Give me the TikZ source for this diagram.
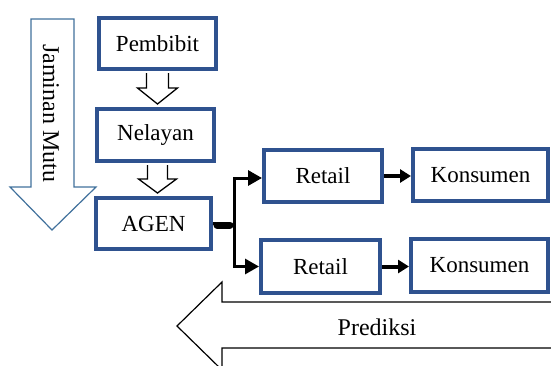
\documentclass[tikz,border=0pt]{standalone}
\usepackage{fontspec}
\setmainfont{Liberation Serif}
\usetikzlibrary{arrows.meta,calc}
\definecolor{boxblue}{RGB}{47,82,143}
\definecolor{arrblue}{RGB}{65,113,156}
\begin{document}
\begin{tikzpicture}[x=1pt,y=-1pt,
  box/.style={draw=boxblue,line width=4pt,fill=white,inner sep=0pt,
    font=\fontsize{23}{26}\selectfont},
  hollow/.style={draw=black,line width=1.3pt,fill=white,line join=miter},
  conn/.style={draw=black,line width=3pt},
  bigtip/.style={-{Triangle[length=14pt,width=15pt]}},
  smalltip/.style={-{Triangle[length=11pt,width=13pt]}},
  lbl/.style={font=\fontsize{24}{26}\selectfont,inner sep=0pt}]
\useasboundingbox (0,0) rectangle (551,365);
\clip (0,0) rectangle (551,365);
% boxes
\node[box,minimum width=117pt,minimum height=51pt] (pem) at (157.5,43.5) {Pembibit};
\node[box,minimum width=117pt,minimum height=52pt] (nel) at (155.5,135) {Nelayan};
\node[box,minimum width=115pt,minimum height=51pt] (agen) at (153.5,223.5) {AGEN};
\node[box,minimum width=118pt,minimum height=52pt] (ret1) at (323,176) {Retail};
\node[box,minimum width=135pt,minimum height=52pt] (kon1) at (480.5,175) {Konsumen};
\node[box,minimum width=119pt,minimum height=53pt] (ret2) at (320.5,266.5) {Retail};
\node[box,minimum width=137pt,minimum height=53pt] (kon2) at (479.5,265.5) {Konsumen};
% hollow down arrows between boxes
\coordinate (a1) at ($(pem.south)+(0,2)$);
\coordinate (t1) at ($(a1 |- nel.north)+(0,-3)$);
\path[hollow] ($(a1)+(-11,0)$) -- ($(a1)+(-11,15)$) -- ($(a1)+(-20,15)$) -- (t1)
  -- ($(a1)+(20,15)$) -- ($(a1)+(11,15)$) -- ($(a1)+(11,0)$);
\coordinate (a2) at ($(nel.south)+(2,2)$);
\coordinate (t2) at ($(a2 |- agen.north)+(0,-3)$);
\path[hollow] ($(a2)+(-10,0)$) -- ($(a2)+(-10,14)$) -- ($(a2)+(-19,14)$) -- (t2)
  -- ($(a2)+(19,14)$) -- ($(a2)+(10,14)$) -- ($(a2)+(10,0)$);
% Jaminan Mutu arrow
\draw[draw=arrblue,line width=1.2pt,fill=white,line join=miter]
  (31,19) -- (74,19) -- (74,187) -- (96,187) -- (52,230) -- (10,187) -- (31,187) -- cycle;
\node[lbl,rotate=-90] (jm) at (51,113) {Jaminan Mutu};
% Prediksi arrow
\draw[draw=black,line width=1.2pt,fill=white,line join=miter]
  (560,302) -- (222,302) -- (222,282) -- (177,326) -- (222,370) -- (222,348) -- (560,348);
\node[lbl] (pred) at (377,327) {Prediksi};
% connectors
\coordinate (j) at (234,225);
\draw[black,line width=7pt,line cap=round] ($(agen.east)+(4,1.5)$) -- ($(j)+(-4,0)$);
\draw[conn] (agen.east) -- (j);
\draw[conn,bigtip] ($(j)+(0,0)$) |- ($(ret1.west)+(0,2)$);
\draw[conn,bigtip] (j) |- (ret2.west);
\draw[black,line width=4pt,smalltip] (ret1.east) -- (ret1.east -| kon1.west);
\draw[black,line width=4pt,smalltip] (ret2.east) -- (ret2.east -| kon2.west);
\end{tikzpicture}
\end{document}
